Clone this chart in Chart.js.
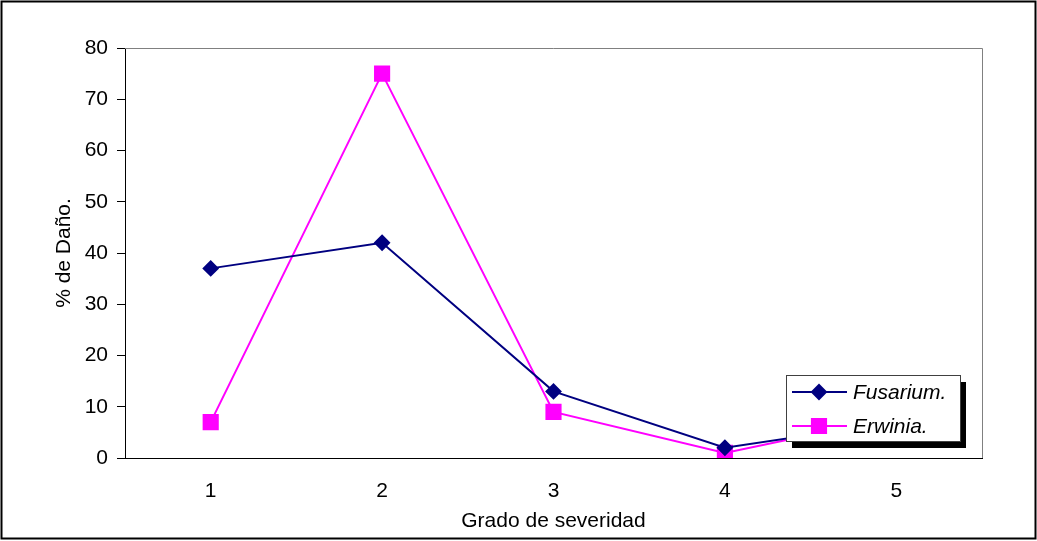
<!DOCTYPE html>
<html>
<head>
<meta charset="utf-8">
<script src="https://cdn.jsdelivr.net/npm/chart.js@4/dist/chart.umd.min.js"></script>
<style>
  html, body { margin: 0; padding: 0; background: #fff; }
  canvas { display: block; }
</style>
</head>
<body>
<canvas id="chart" width="1037" height="541"></canvas>
<script>
const grados = ['1', '2', '3', '4', '5'];
const fusarium = [37, 42, 13, 2, 7];
const erwinia = [7, 75, 9, 1, 8];
const yTicks = [0, 10, 20, 30, 40, 50, 60, 70, 80];

const FONT = '"Liberation Sans", Arial, sans-serif';

// frame, outer border and the boxed legend with its shadow
const excelLook = {
  id: 'excelLook',
  beforeDatasetsDraw(chart) {
    const { ctx, chartArea: a } = chart;
    ctx.save();
    ctx.strokeStyle = '#808080';
    ctx.lineWidth = 1;
    ctx.beginPath();
    ctx.moveTo(a.left, a.top + 0.5);
    ctx.lineTo(a.right + 0.5, a.top + 0.5);
    ctx.lineTo(a.right + 0.5, a.bottom);
    ctx.stroke();
    ctx.restore();
  },
  afterDatasetsDraw(chart) {
    const { ctx } = chart;
    const box = { x: 786, y: 375, w: 174, h: 66 };
    ctx.save();
    ctx.fillStyle = '#000';
    ctx.fillRect(box.x + 6, box.y + 7, box.w, box.h);
    ctx.fillStyle = '#fff';
    ctx.fillRect(box.x, box.y, box.w, box.h);
    ctx.strokeStyle = '#404040';
    ctx.lineWidth = 1;
    ctx.strokeRect(box.x + 0.5, box.y + 0.5, box.w, box.h);

    chart.data.datasets.forEach((ds, i) => {
      const y = box.y + 17 + i * 34;
      ctx.strokeStyle = ds.borderColor;
      ctx.lineWidth = 2;
      ctx.beginPath();
      ctx.moveTo(792, y);
      ctx.lineTo(847, y);
      ctx.stroke();
      Chart.helpers.drawPoint(ctx, {
        pointStyle: ds.pointStyle,
        radius: ds.pointRadius,
        borderWidth: 1
      }, 819, y);
      ctx.fillStyle = ds.pointBackgroundColor;
      ctx.fill();
      ctx.fillStyle = '#000';
      ctx.font = 'italic 21px ' + FONT;
      ctx.textBaseline = 'middle';
      ctx.fillText(ds.label, 853, y + 1);
    });

    ctx.strokeStyle = '#000';
    ctx.strokeRect(1.5, 1.5, 1034, 537);
    ctx.restore();
  }
};

new Chart(document.getElementById('chart'), {
  type: 'line',
  data: {
    labels: grados,
    datasets: [{
      label: 'Fusarium.',
      data: fusarium,
      borderColor: '#000080',
      backgroundColor: '#000080',
      pointBackgroundColor: '#000080',
      pointBorderColor: '#000080',
      pointStyle: 'rectRot',
      pointRadius: 7,
      borderWidth: 2,
      tension: 0
    }, {
      label: 'Erwinia.',
      data: erwinia,
      borderColor: '#ff00ff',
      backgroundColor: '#ff00ff',
      pointBackgroundColor: '#ff00ff',
      pointBorderColor: '#ff00ff',
      pointStyle: 'rect',
      pointRadius: 10,
      borderWidth: 2,
      tension: 0
    }]
  },
  options: {
    responsive: false,
    animation: false,
    layout: { padding: { top: 48, right: 55, left: 0, bottom: 0 } },
    plugins: {
      legend: { display: false },
      tooltip: { enabled: false }
    },
    scales: {
      x: {
        offset: true,
        grid: { display: false, drawTicks: false },
        border: { display: true, color: '#000', width: 1 },
        ticks: { color: '#000', padding: 21, font: { family: FONT, size: 21 } },
        title: {
          display: true,
          text: 'Grado de severidad',
          color: '#000',
          font: { family: FONT, size: 21 },
          padding: { top: 0, bottom: 7 }
        },
        afterFit(scale) { scale.height = 83; }
      },
      y: {
        min: 0,
        max: 80,
        afterBuildTicks(scale) { scale.ticks = yTicks.map(v => ({ value: v })); },
        grid: { drawOnChartArea: false, drawTicks: true, tickLength: 8, color: '#000' },
        border: { display: true, color: '#000', width: 1 },
        ticks: { color: '#000', padding: 9, font: { family: FONT, size: 21 } },
        title: {
          display: true,
          text: '% de Daño.',
          color: '#000',
          font: { family: FONT, size: 21 },
          padding: { top: 52, bottom: 0 }
        },
        afterFit(scale) { scale.width = 125; }
      }
    }
  },
  plugins: [excelLook]
});
</script>
</body>
</html>
